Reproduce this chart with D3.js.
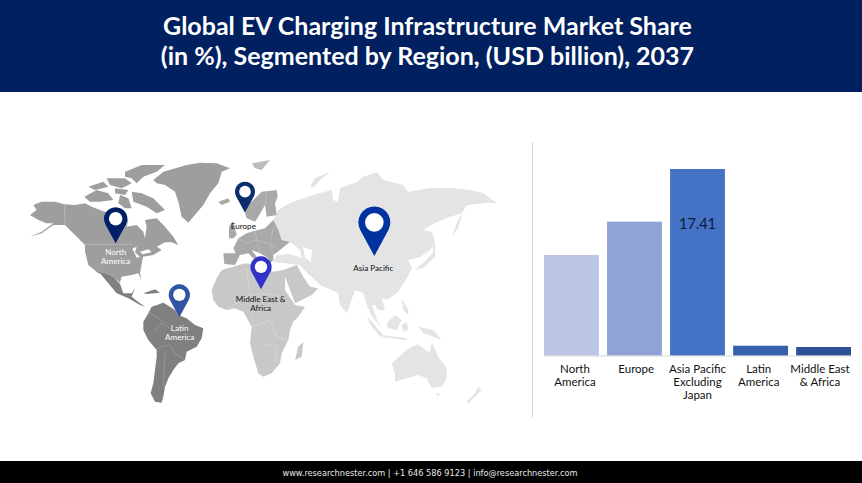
<!DOCTYPE html>
<html><head><meta charset="utf-8">
<script src="https://cdn.jsdelivr.net/npm/d3@7"></script>
<style>html,body{margin:0;padding:0;background:#fff;overflow:hidden}svg{display:block}text{font-family:Lato,"Open Sans",sans-serif}</style>
</head><body><svg id="c" width="862" height="483"></svg>
<script>
const titleLines=["Global EV Charging Infrastructure Market Share","(in %), Segmented by Region, (USD billion), 2037"];
const footerText="www.researchnester.com | +1 646 586 9123 | info@researchnester.com";
const categories=["North America","Europe","Asia Pacific Excluding Japan","Latin America","Middle East & Africa"];
const categoryLines=[["North","America"],["Europe"],["Asia Pacific","Excluding","Japan"],["Latin","America"],["Middle East","& Africa"]];
const values=[9.39,12.5,17.41,0.93,0.81];
const barColors=["#bcc5e3","#8fa3d6","#4472c4","#3560ae","#2f5097"];
const labelledValue=[null,null,"17.41",null,null];
const pinNames=[["North","America"],["Europe"],["Asia Pacific"],["Middle East &","Africa"],["Latin","America"]];
const pinColors=["#001f66","#0b2f6b","#0033a0","#3333cc","#2f55a4"];
const pinLabelColors=["#fff","#111","#111","#111","#fff"];
const pinTips=[[347,340],[735,248],[1123,378],[783,478],[538,562]];
const pinRadius=[35,30,48,32,32];
const pinLabelY=[367,287,415,507,594];
const pinLabelX=[347,730,1120,782,539];

const NA="#9e9e9e",LA="#808080",EU="#a9a9a9",AF="#c8c8c8",AS="#e4e4e4";
// tracing frames of the map artwork: [left, top, units per px]
const mapFrames={A:[25,155,3],B:[205,160,3],D:[340,285,3],W:[0,130,3],E:[240,130,3],R:[0,0,1]};
const asiaShapes=[
 {f:"R",c:AS,p:[[273,220],[278,210],[290,203],[307,197],[320,193],[332,190],[333,200],[338,202],[340,188],[357,182],[363,177],[377,172],[383,180],[403,185],[408,192],[430,188],[450,188],[470,190],[483,193],[497,203],[487,203],[467,205],[462,213],[447,218],[435,223],[423,230],[432,232],[435,242],[430,250],[420,257],[408,260],[412,268],[407,278],[398,292],[387,300],[382,298],[385,310],[378,310],[375,305],[372,305],[377,320],[382,328],[373,318],[368,308],[363,293],[355,290],[347,313],[340,305],[338,293],[327,288],[320,285],[315,280],[307,273],[300,265],[283,263],[273,262],[277,255],[290,254],[302,258],[300,250],[290,242],[275,237]]},
 {f:"R",c:"#fff",p:[[303,247],[312,250],[311,262],[305,258]]},
 {f:"R",c:AS,p:[[310,187],[315,178],[330,172],[320,180],[314,187]]},
 {f:"R",c:AS,p:[[452,237],[457,222],[463,213],[458,228]]},
 {f:"R",c:AS,p:[[415,270],[423,263],[433,253],[432,233],[435,245],[435,257],[423,268]]},
 {f:"D",c:AS,p:[[82,95],[130,150],[120,155],[88,115]]},
 {f:"D",c:AS,p:[[140,115],[165,90],[185,105],[170,135],[145,130]]},
 {f:"D",c:AS,p:[[125,150],[200,160],[200,165],[130,157]]},
 {f:"D",c:AS,p:[[185,120],[200,110],[205,135],[190,140]]},
 {f:"D",c:AS,p:[[185,40],[205,75],[205,90],[190,75]]},
 {f:"D",c:AS,p:[[235,125],[255,130],[280,135],[305,165],[280,155],[250,145]]},
 {f:"D",c:AS,p:[[155,235],[200,195],[215,185],[235,178],[250,190],[270,205],[275,170],[295,215],[320,250],[320,280],[305,305],[275,308],[260,280],[235,270],[200,280],[165,290],[165,265]]},
 {f:"D",c:AS,p:[[288,325],[300,325],[295,335]]},
 {f:"D",c:AS,p:[[378,352],[405,325],[415,305],[425,315],[400,340],[385,355]]}
];
const africaShapes=[
 {f:"E",c:AF,p:[[-85,480],[-70,445],[-55,420],[-20,410],[15,400],[50,405],[70,410],[100,425],[130,420],[170,405],[190,440],[210,470],[235,475],[215,495],[175,515],[165,520],[150,480],[135,440],[135,480],[165,525],[195,530],[175,560],[160,575],[150,600],[145,630],[125,670],[120,700],[95,730],[70,740],[55,730],[40,680],[30,640],[35,590],[10,545],[-15,535],[-40,540],[-65,530],[-80,510]]},
 {f:"E",c:AF,p:[[165,690],[175,650],[190,635],[185,680]]}
];
const europeShapes=[
 {f:"B",c:EU,p:[[55,280],[58,312],[90,315],[105,285],[130,280],[150,300],[165,315],[155,290],[140,270],[165,280],[190,295],[195,310],[205,300],[205,285],[225,270],[255,245],[230,240],[220,210],[205,180],[180,205],[150,212],[125,220],[100,235],[85,265],[92,280]]},
 {f:"B",c:EU,p:[[120,160],[135,130],[170,95],[215,90],[218,110],[210,130],[215,165],[185,170],[180,135],[160,170],[150,185],[125,175]]},
 {f:"B",c:EU,p:[[72,200],[85,183],[95,225],[85,235],[72,235]]},
 {f:"B",c:EU,p:[[40,125],[70,115],[75,125],[50,135]]},
 {f:"B",c:"#bdbdbd",p:[[140,10],[195,0],[170,30],[150,25]]}
];
const americaShapes=[
 {f:"A",c:NA,p:[[15,245],[50,230],[85,205],[65,205],[40,195],[15,180],[35,165],[25,150],[50,140],[90,140],[118,148],[150,150],[180,145],[200,155],[225,165],[240,170],[300,180],[310,195],[305,215],[335,210],[355,230],[360,250],[365,215],[360,195],[395,190],[420,215],[445,245],[460,270],[440,262],[420,262],[395,275],[410,285],[385,300],[354,305],[345,355],[350,375],[340,355],[320,360],[290,365],[285,383],[265,365],[245,358],[220,355],[190,330],[180,290],[180,270],[150,240],[120,210],[85,210],[50,235]]},
 {f:"A",c:NA,p:[[300,50],[350,30],[420,30],[395,50],[355,65],[335,85],[320,70],[300,65]]},
 {f:"A",c:NA,p:[[178,125],[215,105],[250,115],[265,135],[225,140],[195,140]]},
 {f:"A",c:NA,p:[[190,95],[235,80],[250,95],[210,105]]},
 {f:"A",c:NA,p:[[245,70],[300,70],[320,85],[290,100],[255,90]]},
 {f:"A",c:NA,p:[[320,110],[350,115],[385,130],[420,165],[395,175],[365,155],[325,140]]},
 {f:"A",c:NA,p:[[285,120],[310,130],[320,160],[300,160],[280,145]]},
 {f:"A",c:NA,p:[[270,100],[310,105],[300,120],[270,115]]},
 {f:"A",c:"#fff",p:[[322,280],[335,276],[330,292],[345,305],[335,308]]},
 {f:"A",c:"#fff",p:[[345,290],[370,283],[380,292],[352,298]]},
 {f:"W",c:NA,p:[[460,150],[490,125],[560,105],[600,98],[650,100],[690,115],[665,125],[655,160],[630,190],[610,225],[580,260],[565,278],[545,260],[535,215],[525,185],[495,165],[470,160]]},
 {f:"W",c:LA,p:[[290,425],[320,432],[340,440],[360,462],[370,490],[395,490],[405,475],[395,500],[420,520],[435,530],[420,525],[385,505],[350,490],[325,460],[300,430]]},
 {f:"W",c:LA,p:[[430,490],[465,478],[480,488],[440,492]]},
 {f:"W",c:LA,p:[[430,575],[445,550],[455,530],[490,518],[510,530],[525,540],[535,555],[560,565],[585,585],[610,595],[605,625],[590,650],[560,665],[555,690],[535,700],[520,720],[505,745],[495,770],[490,800],[485,818],[465,815],[452,790],[460,760],[465,720],[470,680],[470,660],[445,630],[430,600]]}
];
const borderLines=[
 {f:"A",c:"#c4c4c4",p:[[180,268],[320,268]]},
 {f:"A",c:"#c4c4c4",p:[[118,148],[120,205]]},
 {f:"W",c:"#a4a4a4",p:[[445,545],[490,575],[460,605]]},
 {f:"W",c:"#a4a4a4",p:[[490,580],[530,610],[560,590]]},
 {f:"W",c:"#a4a4a4",p:[[470,655],[510,645],[525,670],[555,690]]},
 {f:"W",c:"#a4a4a4",p:[[495,660],[490,770]]},
 {f:"E",c:"#dedede",p:[[-40,540],[20,500],[70,490],[120,500],[150,530]]},
 {f:"E",c:"#dedede",p:[[35,590],[90,570],[110,620],[145,630]]},
 {f:"E",c:"#dedede",p:[[60,640],[110,650],[105,700]]},
 {f:"E",c:"#dedede",p:[[20,415],[30,500],[40,560]]},
 {f:"B",c:"#c6c6c6",p:[[100,235],[125,250],[150,240],[190,250],[225,270]]},
 {f:"B",c:"#c6c6c6",p:[[150,212],[155,240],[165,280]]},
 {f:"B",c:"#c6c6c6",p:[[205,205],[195,250],[205,285]]},
 {f:"B",c:"#c6c6c6",p:[[180,135],[185,100]]}
];

const svg=d3.select("#c");
svg.append("defs").append("filter").attr("id","soft").append("feGaussianBlur").attr("stdDeviation",.45);
svg.append("rect").attr("width",862).attr("height",92).attr("fill","#012060");
svg.selectAll("text.t").data(titleLines).join("text").attr("class","t").attr("x",427.5).attr("y",(d,i)=>35+i*30)
 .attr("text-anchor","middle").attr("fill","#fff").attr("font-size",25).attr("font-weight",700).text(d=>d);
svg.append("rect").attr("y",461).attr("width",862).attr("height",22).attr("fill","#000");
svg.append("text").attr("x",430).attr("y",476).attr("text-anchor","middle").attr("fill","#e8e8e8")
 .style("font-family","'DejaVu Sans',sans-serif").attr("font-size",8.2).text(footerText);

// map
const frameScales=f=>{const [l,t,u]=mapFrames[f];return [d3.scaleLinear().domain([0,u]).range([l,l+1]),d3.scaleLinear().domain([0,u]).range([t,t+1])];};
const mapG=svg.append("g").attr("filter","url(#soft)");
const drawShapes=shapes=>mapG.append("g").selectAll("path").data(shapes).join("path").attr("fill",d=>d.c)
 .attr("d",d=>{const [x,y]=frameScales(d.f);return d3.line().x(q=>x(q[0])).y(q=>y(q[1])).curve(d3.curveLinearClosed)(d.p);});
drawShapes(asiaShapes);drawShapes(africaShapes);drawShapes(europeShapes);drawShapes(americaShapes);
mapG.append("g").selectAll("path").data(borderLines).join("path").attr("fill","none").attr("stroke",d=>d.c).attr("stroke-width",.6)
 .attr("d",d=>{const [x,y]=frameScales(d.f);return d3.line().x(q=>x(q[0])).y(q=>y(q[1]))(d.p);});

// pins
const [xW,yW]=frameScales("W");
const pin=svg.append("g");
pinNames.forEach((n,i)=>{
 const tx=xW(pinTips[i][0]),ty=yW(pinTips[i][1]),r=pinRadius[i]/3,cy=ty-r*2.1,a=Math.acos(r/(ty-cy));
 const p=d3.path();p.moveTo(tx,ty);
 p.lineTo(tx-r*Math.sin(a),cy+r*Math.cos(a));
 p.arc(tx,cy,r,Math.PI/2+a,Math.PI/2-a);p.closePath();
 pin.append("path").attr("d",p.toString()).attr("fill",pinColors[i]);
 pin.append("circle").attr("cx",tx).attr("cy",cy).attr("r",r*0.58).attr("fill","#fff");
 n.forEach((s,j)=>pin.append("text").attr("x",xW(pinLabelX[i])).attr("y",yW(pinLabelY[i])+3+j*9)
  .attr("text-anchor","middle").attr("font-size",8.1).attr("fill",pinLabelColors[i]).text(s));
});

// divider and bars
svg.append("line").attr("x1",532.5).attr("x2",532.5).attr("y1",142).attr("y2",417).attr("stroke","#d4d4d4");
const bx=d3.scaleBand().domain(categories).range([540.2,854.8]).paddingInner(.13).paddingOuter(.06);
const by=d3.scaleLinear().domain([0,17.41]).range([355.7,169]);
svg.selectAll("rect.b").data(values).join("rect").attr("class","b")
 .attr("x",(d,i)=>bx(categories[i])).attr("width",bx.bandwidth())
 .attr("y",d=>by(d)).attr("height",d=>by(0)-by(d)).attr("fill",(d,i)=>barColors[i]);
svg.append("line").attr("x1",544).attr("x2",851).attr("y1",by(0)+.3).attr("y2",by(0)+.3).attr("stroke","#d9d9d9");
const lx=d3.scalePoint().domain(categories).range([575,820]);
categories.forEach((c,i)=>categoryLines[i].forEach((s,j)=>svg.append("text").attr("x",lx(c)).attr("y",373+j*13)
 .attr("text-anchor","middle").attr("font-size",11.5).attr("fill","#111").text(s)));
labelledValue.forEach((v,i)=>{if(v)svg.append("text").attr("x",bx(categories[i])+bx.bandwidth()/2).attr("y",229)
 .attr("text-anchor","middle").attr("font-size",14.5).attr("fill","#0b1a3a").text(v);});
</script></body></html>
